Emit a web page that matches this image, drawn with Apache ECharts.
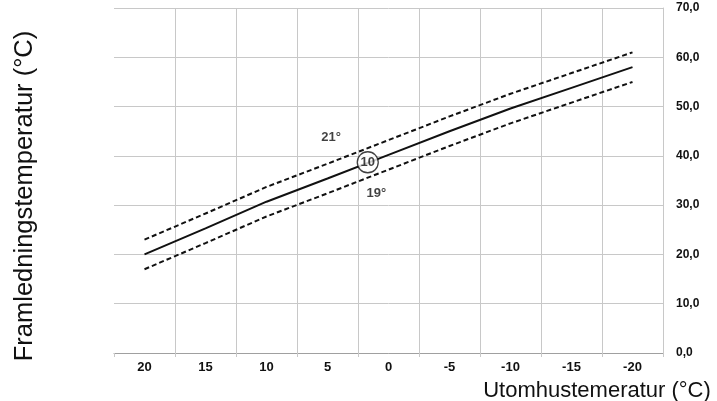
<!DOCTYPE html>
<html>
<head>
<meta charset="utf-8">
<script src="https://cdn.jsdelivr.net/npm/echarts@6/dist/echarts.min.js"></script>
<style>
    html, body { margin: 0; padding: 0; background: #fff; }
    #chart { width: 717px; height: 401px; }
</style>
</head>
<body>
<div id="chart"></div>
<script>
// utomhustemperatur (kategorier, fallande)
const categories = ['20', '15', '10', '5', '0', '-5', '-10', '-15', '-20']
// framledningstemperatur per kurva
const curveMid = [20.0, 25.3, 30.7, 35.4, 40.2, 45.0, 49.6, 53.8, 58.0]
const curveUpper = [23.0, 28.3, 33.7, 38.4, 43.2, 48.0, 52.6, 56.8, 61.0]
const curveLower = [17.0, 22.3, 27.7, 32.4, 37.2, 42.0, 46.6, 50.8, 55.0]
// etiketter: [utomhustemp, framledningstemp, text]
const curveMarker = [[1.7, 38.7, '10']]
const curveLabels = [[4.7, 43.8, '21°'], [1.0, 32.3, '19°']]

const chart = echarts.init(document.getElementById('chart'))
const gridColor = '#c8c8c8'

const option = {
    animation: false,
    grid: { left: 114, right: 54, top: 8, bottom: 48 },
    xAxis: [
        {
            type: 'category',
            data: categories,
            boundaryGap: true,
            axisLine: { lineStyle: { color: '#a0a0a0' } },
            axisTick: { show: true, length: 4, lineStyle: { color: gridColor } },
            axisLabel: {
                color: '#111',
                fontFamily: 'Liberation Sans',
                fontWeight: 'bold',
                fontSize: 13,
                margin: 8
            },
            splitLine: { show: false }
        },
        {
            // värdeaxel för lodräta rutlinjer och etiketter mellan kategorierna
            type: 'value',
            position: 'bottom',
            inverse: true,
            min: -22.5,
            max: 22.5,
            interval: 5,
            axisLine: { show: false },
            axisTick: { show: false },
            axisLabel: { show: false },
            splitLine: {
                show: true,
                // kanterna ritas inte (höger kant täcks av y-axeln)
                showMinLine: false,
                showMaxLine: false,
                lineStyle: { color: gridColor }
            }
        }
    ],
    yAxis: {
        type: 'value',
        position: 'right',
        min: 0,
        max: 70,
        interval: 10,
        axisLine: { show: true, onZero: false, lineStyle: { color: gridColor } },
        axisTick: { show: false },
        axisLabel: {
            color: '#111',
            fontFamily: 'Liberation Sans',
            fontWeight: 'bold',
            fontSize: 12,
            margin: 13,
            formatter: (val) => val.toFixed(1).replace('.', ',')
        },
        splitLine: { show: true, lineStyle: { color: gridColor } }
    },
    graphic: [
        {
            type: 'text',
            x: 25,
            y: 196,
            rotation: Math.PI / 2,
            style: {
                text: 'Framledningstemperatur (°C)',
                fill: '#111',
                font: '25.5px "Liberation Sans"',
                align: 'center',
                verticalAlign: 'middle'
            }
        },
        {
            type: 'text',
            x: 597,
            y: 391,
            style: {
                text: 'Utomhustemeratur (°C)',
                fill: '#111',
                font: '22px "Liberation Sans"',
                align: 'center',
                verticalAlign: 'middle'
            }
        }
    ],
    series: [
        {
            name: '21°',
            type: 'line',
            data: curveUpper,
            symbol: 'none',
            lineStyle: { color: '#111', width: 2, type: [5, 3] }
        },
        {
            name: '20°',
            type: 'line',
            data: curveMid,
            symbol: 'none',
            lineStyle: { color: '#111', width: 2 }
        },
        {
            name: '19°',
            type: 'line',
            data: curveLower,
            symbol: 'none',
            lineStyle: { color: '#111', width: 2, type: [5, 3] }
        },
        {
            name: 'kurva',
            type: 'scatter',
            xAxisIndex: 1,
            data: curveMarker,
            symbol: 'circle',
            symbolSize: 21,
            z: 5,
            itemStyle: { color: '#fff', borderColor: '#111', borderWidth: 1.3 },
            label: {
                show: true,
                position: 'inside',
                formatter: (p) => p.data[2],
                color: '#111',
                fontFamily: 'Liberation Sans',
                fontWeight: 'bold',
                fontSize: 13
            }
        },
        {
            name: 'rumstemp',
            type: 'scatter',
            xAxisIndex: 1,
            data: curveLabels,
            symbolSize: 0,
            label: {
                show: true,
                position: 'inside',
                formatter: (p) => p.data[2],
                color: '#111',
                fontFamily: 'Liberation Sans',
                fontWeight: 'bold',
                fontSize: 13
            }
        }
    ]
}
chart.setOption(option)
</script>
</body>
</html>
